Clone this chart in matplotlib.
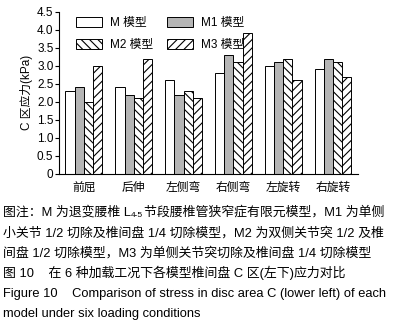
import numpy as np
import matplotlib.pyplot as plt
from matplotlib.patches import Patch
from matplotlib.transforms import offset_copy

plt.rcParams['font.family'] = ['Liberation Sans', 'Noto Sans CJK SC', 'DejaVu Sans']
plt.rcParams['hatch.linewidth'] = 0.8

categories = ['前屈', '后伸', '左侧弯', '右侧弯', '左旋转', '右旋转']
series = ['M 模型', 'M1 模型', 'M2 模型', 'M3 模型']
m_vals = [2.3, 2.4, 2.6, 2.8, 3.0, 2.9]
m1_vals = [2.4, 2.2, 2.2, 3.3, 3.1, 3.2]
m2_vals = [2.0, 2.1, 2.3, 3.1, 3.2, 3.1]
m3_vals = [3.0, 3.2, 2.1, 3.9, 2.6, 2.7]
yticks = [0, 0.5, 1.0, 1.5, 2.0, 2.5, 3.0, 3.5, 4.0, 4.5]
yticklabels = ['0', '0.5', '1.0', '1.5', '2.0', '2.5', '3.0', '3.5', '4.0', '4.5']

fig = plt.figure(figsize=(4.04, 3.25), dpi=100)
ax = fig.add_axes([0.146, 0.465, 0.740, 0.499])

styles = [('white', ''), ('#b5b5b5', ''), ('white', '\\\\\\\\'), ('white', '////')]
x = np.arange(len(categories))
w = 0.185
handles = []
for i, vals in enumerate([m_vals, m1_vals, m2_vals, m3_vals]):
    fc, h = styles[i]
    ax.bar(x + (i - 1.5) * w, vals, w, color=fc, edgecolor='black',
           linewidth=0.7, hatch=h)
    handles.append(Patch(facecolor=fc, edgecolor='black', linewidth=0.7,
                         hatch=h, label=series[i]))

ax.set_xlim(-0.5, 5.5)
ax.set_ylim(0, 4.5)
ax.set_yticks(yticks)
ax.set_yticklabels(yticklabels, fontsize=8.5)
ax.set_xticks(x)
ax.set_xticklabels(categories, fontsize=8.5)
ax.tick_params(axis='x', length=0, pad=6)
ax.tick_params(axis='y', length=3, width=0.8, pad=1)
ax.spines['top'].set_visible(False)
ax.spines['right'].set_visible(False)
ax.set_ylabel('C 区应力(kPa)', fontsize=8.5, labelpad=3)

# row-major order: M, M1 / M2, M3
order = [0, 2, 1, 3]
ax.legend(handles=[handles[k] for k in order], ncol=2, loc='upper left',
          bbox_to_anchor=(0.02, 1.03), frameon=False, fontsize=8.5,
          handlelength=2.2, handleheight=0.9, labelspacing=0.8,
          columnspacing=1.2, handletextpad=0.7)

fs = 9.3
renderer = fig.canvas.get_renderer()

# first caption line, with subscript 4-5
y1 = 1 - 212 / 325
t = fig.text(3 / 404, y1, '图注：M 为退变腰椎 L', fontsize=fs, va='center', ha='left')
wpx = t.get_window_extent(renderer).width
tr = offset_copy(fig.transFigure, fig=fig, x=wpx * 72 / fig.dpi, y=-2.5, units='points')
s = fig.text(3 / 404, y1, '4-5', fontsize=fs * 0.65, va='center', ha='left', transform=tr)
wpx2 = s.get_window_extent(renderer).width
tr2 = offset_copy(fig.transFigure, fig=fig, x=(wpx + wpx2 + 1) * 72 / fig.dpi, y=0, units='points')
fig.text(3 / 404, y1, '节段腰椎管狭窄症有限元模型，M1 为单侧', fontsize=fs,
         va='center', ha='left', transform=tr2)

lines = [
    ('小关节 1/2 切除及椎间盘 1/4 切除模型，M2 为双侧关节突 1/2 及椎', 233),
    ('间盘 1/2 切除模型，M3 为单侧关节突切除及椎间盘 1/4 切除模型', 253),
    ('图 10    在 6 种加载工况下各模型椎间盘 C 区(左下)应力对比', 273),
    ('Figure 10    Comparison of stress in disc area C (lower left) of each', 294),
    ('model under six loading conditions', 314),
]
for txt, yp in lines:
    fig.text(3 / 404, 1 - yp / 325, txt, fontsize=fs, va='center', ha='left')

fig.savefig('out.png', dpi=100)
